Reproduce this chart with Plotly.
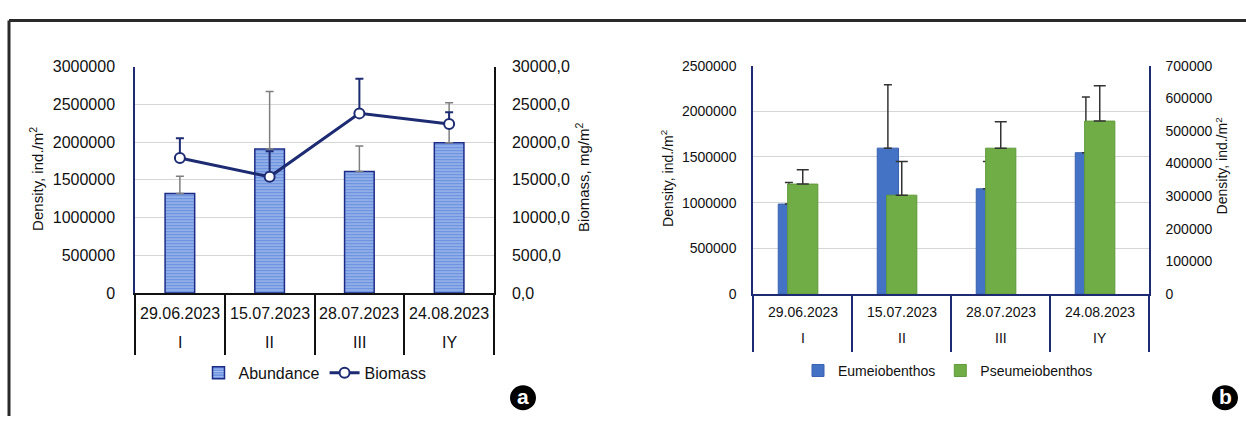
import plotly.graph_objects as go

W, H = 1246, 425

# ---------------- data ----------------
dates = ["29.06.2023", "15.07.2023", "28.07.2023", "24.08.2023"]
stages = ["I", "II", "III", "IY"]

abundance = [1320000, 1910000, 1610000, 1990000]
abundance_err = [228000, 760000, 338000, 530000]
biomass = [17900, 15400, 23800, 22400]
biomass_err = [2600, 3400, 4600, 1550]

eumeio = [985000, 1597000, 1152000, 1547000]
eumeio_err = [237000, 693000, 298000, 610000]
pseumeio = [337000, 303000, 447000, 530000]
pseumeio_err = [44000, 103000, 81000, 108000]

# ---------------- helpers ----------------
FONT = "Liberation Sans, Arial, sans-serif"
TXT = "#111111"
NAVY = "#1d2b72"
xs = list(range(len(dates)))
bounds = [i - 0.5 for i in range(len(dates) + 1)]


def px_x(p):
    return p / W


def px_y(p):
    return (H - p) / H


fig = go.Figure()

# ---------------- panel a ----------------
fig.add_trace(go.Bar(
    x=xs, y=abundance, name="Abundance", width=0.33,
    marker=dict(color="#7ea2e6",
                line=dict(color="#1c2c86", width=1.5),
                pattern=dict(shape="-", fgcolor="#e8efff", bgcolor="#6f95e0",
                             size=3, solidity=0.35, fillmode="overlay")),
    error_y=dict(type="data", array=abundance_err, symmetric=False,
                 arrayminus=[0] * 4, color="#7f7f7f", thickness=1.5, width=4),
    xaxis="x", yaxis="y", legend="legend",
))
fig.add_trace(go.Scatter(
    x=xs, y=biomass, name="Biomass", mode="lines+markers",
    line=dict(color=NAVY, width=3),
    marker=dict(symbol="circle", size=10, color="white",
                line=dict(color=NAVY, width=2)),
    error_y=dict(type="data", array=biomass_err, symmetric=False,
                 arrayminus=[0] * 4, color=NAVY, thickness=2, width=4),
    xaxis="x", yaxis="y2", legend="legend",
))

# ---------------- panel b ----------------
fig.add_trace(go.Bar(
    x=xs, y=eumeio, name="Eumeiobenthos", width=0.215, offset=-0.245,
    marker=dict(color="#4472c4", line=dict(color="#3a62b0", width=1)),
    error_y=dict(type="data", array=eumeio_err, symmetric=False,
                 arrayminus=[0] * 4, color="#333333", thickness=1.5, width=4),
    xaxis="x3", yaxis="y3", legend="legend2",
))
fig.add_trace(go.Bar(
    x=xs, y=pseumeio, name="Pseumeiobenthos", width=0.305, offset=-0.15,
    marker=dict(color="#70ad47", line=dict(color="#5f9a3a", width=1)),
    error_y=dict(type="data", array=pseumeio_err, symmetric=False,
                 arrayminus=[0] * 4, color="#333333", thickness=1.5, width=6),
    xaxis="x3", yaxis="y4", legend="legend2",
))

tickfont_a = dict(family=FONT, size=16, color=TXT)
tickfont_b = dict(family=FONT, size=14, color=TXT)


def cat_axis(domain, anchor, color, ticklen):
    return dict(domain=domain, anchor=anchor, range=[-0.5, 3.5],
                showgrid=False, zeroline=False, showline=True,
                linecolor=color, linewidth=1.5,
                tickmode="array", tickvals=xs, ticks="", showticklabels=False,
                minor=dict(tickmode="array", tickvals=bounds, ticks="outside",
                           ticklen=ticklen, tickwidth=1.5, tickcolor=color,
                           showgrid=False),
                fixedrange=True)


fig.update_layout(
    width=W, height=H, autosize=False,
    margin=dict(l=0, r=0, t=0, b=0),
    paper_bgcolor="white", plot_bgcolor="white",
    separators=", ",
    barmode="overlay",
    font=dict(family=FONT, color=TXT),
    xaxis=cat_axis([px_x(135), px_x(494)], "y", "#111", 60),
    yaxis=dict(domain=[px_y(297), px_y(61)], anchor="x", range=[0, 3000000],
               dtick=500000, tickformat="d", showline=True, linecolor=NAVY,
               linewidth=1.5, gridcolor="#d6d6d6", gridwidth=1, zeroline=False,
               ticks="", ticklabelstandoff=15, tickfont=tickfont_a),
    yaxis2=dict(overlaying="y", side="right", anchor="x", range=[0, 30000],
                dtick=5000, tickformat=".1f", showline=True, linecolor="#111",
                linewidth=1.5, showgrid=False, zeroline=False, ticks="",
                ticklabelstandoff=13, tickfont=tickfont_a),
    xaxis3=cat_axis([px_x(753), px_x(1149)], "y3", NAVY, 56),
    yaxis3=dict(domain=[px_y(298), px_y(60)], anchor="x3", range=[0, 2500000],
                dtick=500000, tickformat="d", showline=True, linecolor=NAVY,
                linewidth=1.5, gridcolor="#d6d6d6", gridwidth=1, zeroline=False,
                ticks="", ticklabelstandoff=12, tickfont=tickfont_b),
    yaxis4=dict(overlaying="y3", side="right", anchor="x3", range=[0, 700000],
                dtick=100000, tickformat="d", showline=True, linecolor=NAVY,
                linewidth=1.5, showgrid=False, zeroline=False, ticks="",
                ticklabelstandoff=12, tickfont=tickfont_b),
    legend=dict(orientation="h", x=px_x(315), xanchor="center",
                y=px_y(380), yanchor="middle",
                font=dict(family=FONT, size=16, color=TXT),
                bgcolor="rgba(0,0,0,0)"),
    legend2=dict(orientation="h", x=px_x(948), xanchor="center",
                 y=px_y(378), yanchor="middle",
                 font=dict(family=FONT, size=14, color=TXT),
                 bgcolor="rgba(0,0,0,0)"),
    showlegend=True,
)

annotations = []
# category labels (two rows)
for xref, ydate, yrom, size in (("x", 318, 348, 16), ("x3", 317, 344, 14)):
    for i in xs:
        annotations.append(dict(x=i, xref=xref, y=px_y(ydate), yref="paper",
                                text=dates[i], showarrow=False, xanchor="center",
                                yanchor="middle",
                                font=dict(family=FONT, size=size, color=TXT)))
        annotations.append(dict(x=i, xref=xref, y=px_y(yrom), yref="paper",
                                text=stages[i], showarrow=False, xanchor="center",
                                yanchor="middle",
                                font=dict(family=FONT, size=size, color=TXT)))

# axis titles
for x, y, txt, size in ((37, 178, "Density, ind./m<sup>2</sup>", 15),
                        (583, 177, "Biomass, mg/m<sup>2</sup>", 15),
                        (667, 178, "Density, ind./m<sup>2</sup>", 14),
                        (1222, 165, "Density, ind./m<sup>2</sup>", 14)):
    annotations.append(dict(x=px_x(x), y=px_y(y), xref="paper", yref="paper",
                            text=txt, textangle=-90, showarrow=False,
                            xanchor="center", yanchor="middle",
                            font=dict(family=FONT, size=size, color=TXT)))

# panel letters
shapes = []
for cx, letter in ((523, "a"), (1225, "b")):
    shapes.append(dict(type="circle", xref="paper", yref="paper",
                       x0=px_x(cx - 13), x1=px_x(cx + 13),
                       y0=px_y(406 + 13), y1=px_y(406 - 13),
                       fillcolor="black", line=dict(color="black", width=0)))
    annotations.append(dict(x=px_x(cx), y=px_y(405), xref="paper", yref="paper",
                            text="<b>%s</b>" % letter, showarrow=False,
                            xanchor="center", yanchor="middle",
                            font=dict(family=FONT, size=21, color="white")))

# outer frame (top and left edges)
shapes.append(dict(type="line", xref="paper", yref="paper",
                   x0=px_x(9), x1=1, y0=px_y(13), y1=px_y(13),
                   line=dict(color="#2a2a2a", width=3)))
shapes.append(dict(type="line", xref="paper", yref="paper",
                   x0=px_x(9), x1=px_x(9), y0=px_y(13), y1=0,
                   line=dict(color="#2a2a2a", width=3)))

fig.update_layout(annotations=annotations, shapes=shapes)

fig.write_html(
    "out.html",
    config={"displayModeBar": False},
    post_script="document.body.style.margin='0';document.body.style.overflow='hidden';",
)
